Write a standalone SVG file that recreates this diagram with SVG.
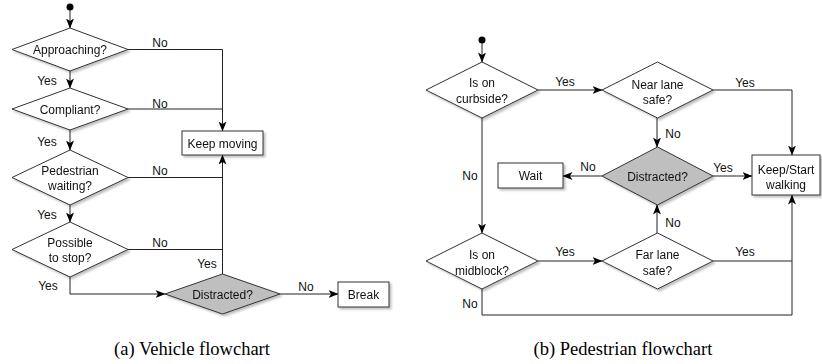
<svg xmlns="http://www.w3.org/2000/svg" width="822" height="364" viewBox="0 0 822 364">
<style>
.n{fill:#fff;stroke:#333;stroke-width:1}
.g{fill:#bfbfbf;stroke:#333;stroke-width:1}
.t{font-family:"Liberation Sans",Arial,sans-serif;font-size:12px;fill:#111;text-anchor:middle}
.l{font-family:"Liberation Sans",Arial,sans-serif;font-size:12px;fill:#111;text-anchor:middle}
.c{fill:none;stroke:#222;stroke-width:1}
.cap{font-family:"Liberation Serif","Times New Roman",serif;font-size:18.5px;fill:#000;text-anchor:middle}
</style>
<defs>
<marker id="ah" viewBox="0 0 10 8" refX="9.5" refY="4" markerWidth="10" markerHeight="8" markerUnits="userSpaceOnUse" orient="auto">
<path d="M0,0 L10,4 L0,8 L2.5,4 z" fill="#000"/>
</marker>
<filter id="sh" x="-10%" y="-10%" width="130%" height="140%">
<feDropShadow dx="2" dy="2" stdDeviation="1.2" flood-color="#000" flood-opacity="0.25"/>
</filter>
</defs>
<rect width="822" height="364" fill="#fff"/>

<g id="connectors">
<!-- left chart -->
<circle cx="70" cy="7" r="3.5" fill="#000"/>
<line class="c" x1="70" y1="10" x2="70" y2="28" marker-end="url(#ah)"/>
<line class="c" x1="70" y1="71" x2="70" y2="88" marker-end="url(#ah)"/>
<line class="c" x1="70" y1="130" x2="70" y2="150" marker-end="url(#ah)"/>
<line class="c" x1="70" y1="205" x2="70" y2="222" marker-end="url(#ah)"/>
<polyline class="c" points="70,277 70,294 165,294" marker-end="url(#ah)"/>
<polyline class="c" points="128,49.5 222.5,49.5 222.5,131" marker-end="url(#ah)"/>
<line class="c" x1="128" y1="109" x2="222.5" y2="109"/>
<line class="c" x1="128" y1="177.5" x2="222.5" y2="177.5"/>
<line class="c" x1="128" y1="249.5" x2="222.5" y2="249.5"/>
<line class="c" x1="222.5" y1="274" x2="222.5" y2="155" marker-end="url(#ah)"/>
<line class="c" x1="280" y1="294" x2="338" y2="294" marker-end="url(#ah)"/>
<text class="l" x="47" y="85">Yes</text>
<text class="l" x="47" y="146">Yes</text>
<text class="l" x="47" y="219">Yes</text>
<text class="l" x="48" y="290">Yes</text>
<text class="l" x="160" y="47">No</text>
<text class="l" x="160" y="108">No</text>
<text class="l" x="160" y="175">No</text>
<text class="l" x="160" y="247">No</text>
<text class="l" x="207" y="268">Yes</text>
<text class="l" x="306" y="291">No</text>
<!-- right chart -->
<circle cx="482" cy="40" r="3.5" fill="#000"/>
<line class="c" x1="482" y1="43" x2="482" y2="62" marker-end="url(#ah)"/>
<line class="c" x1="538" y1="90" x2="602" y2="90" marker-end="url(#ah)"/>
<polyline class="c" points="713,90 792,90 792,155" marker-end="url(#ah)"/>
<line class="c" x1="657" y1="118" x2="657" y2="147" marker-end="url(#ah)"/>
<line class="c" x1="713" y1="176" x2="752" y2="176" marker-end="url(#ah)"/>
<line class="c" x1="602" y1="176" x2="563" y2="176" marker-end="url(#ah)"/>
<line class="c" x1="482" y1="118" x2="482" y2="233" marker-end="url(#ah)"/>
<line class="c" x1="538" y1="261" x2="602" y2="261" marker-end="url(#ah)"/>
<line class="c" x1="657" y1="233" x2="657" y2="205" marker-end="url(#ah)"/>
<line class="c" x1="713" y1="261" x2="792" y2="261"/>
<polyline class="c" points="482,289 482,315 792,315 792,195" marker-end="url(#ah)"/>
<text class="l" x="565" y="86">Yes</text>
<text class="l" x="745" y="87">Yes</text>
<text class="l" x="673" y="138">No</text>
<text class="l" x="723" y="172">Yes</text>
<text class="l" x="588" y="171">No</text>
<text class="l" x="470" y="180">No</text>
<text class="l" x="673" y="227">No</text>
<text class="l" x="565" y="256">Yes</text>
<text class="l" x="745" y="256">Yes</text>
<text class="l" x="470" y="308">No</text>
</g>

<g id="approaching" filter="url(#sh)"><polygon class="n" points="12,49.5 70,28 128,49.5 70,71"/><text class="t" x="70" y="54">Approaching?</text></g>
<g id="compliant" filter="url(#sh)"><polygon class="n" points="12,109 70,88 128,109 70,130"/><text class="t" x="70" y="114">Compliant?</text></g>
<g id="pedestrian-waiting" filter="url(#sh)"><polygon class="n" points="12,177.5 70,150 128,177.5 70,205"/><text class="t" x="70" y="175">Pedestrian</text><text class="t" x="70" y="190">waiting?</text></g>
<g id="possible-stop" filter="url(#sh)"><polygon class="n" points="12,249.5 70,222 128,249.5 70,277"/><text class="t" x="70" y="247">Possible</text><text class="t" x="70" y="262">to stop?</text></g>
<g id="keep-moving" filter="url(#sh)"><rect class="n" x="182" y="131" width="81" height="24"/><text class="t" x="222.5" y="147.5">Keep moving</text></g>
<g id="distracted-v" filter="url(#sh)"><polygon class="g" points="165,294 222.5,274 280,294 222.5,314"/><text class="t" x="222.5" y="298.5">Distracted?</text></g>
<g id="break" filter="url(#sh)"><rect class="n" x="338" y="282" width="51" height="25"/><text class="t" x="363.5" y="298.5">Break</text></g>

<g id="curbside" filter="url(#sh)"><polygon class="n" points="426,90 482,62 538,90 482,118"/><text class="t" x="482" y="87">Is on</text><text class="t" x="482" y="103">curbside?</text></g>
<g id="near-lane" filter="url(#sh)"><polygon class="n" points="602,90 657.5,62 713,90 657.5,118"/><text class="t" x="657.5" y="89">Near lane</text><text class="t" x="657.5" y="104">safe?</text></g>
<g id="distracted-p" filter="url(#sh)"><polygon class="g" points="602,176 657.5,147 713,176 657.5,205"/><text class="t" x="657.5" y="180.5">Distracted?</text></g>
<g id="wait" filter="url(#sh)"><rect class="n" x="498" y="163" width="65" height="25"/><text class="t" x="530.5" y="180">Wait</text></g>
<g id="keep-start" filter="url(#sh)"><rect class="n" x="752" y="155" width="68" height="40"/><text class="t" x="786" y="174">Keep/Start</text><text class="t" x="786" y="189">walking</text></g>
<g id="midblock" filter="url(#sh)"><polygon class="n" points="426,261 482,233 538,261 482,289"/><text class="t" x="482" y="259">Is on</text><text class="t" x="482" y="275">midblock?</text></g>
<g id="far-lane" filter="url(#sh)"><polygon class="n" points="602,261 657.5,233 713,261 657.5,289"/><text class="t" x="657.5" y="259">Far lane</text><text class="t" x="657.5" y="275">safe?</text></g>

<text class="cap" x="192" y="355">(a)  Vehicle flowchart</text>
<text class="cap" x="623" y="355">(b)  Pedestrian flowchart</text>
</svg>
